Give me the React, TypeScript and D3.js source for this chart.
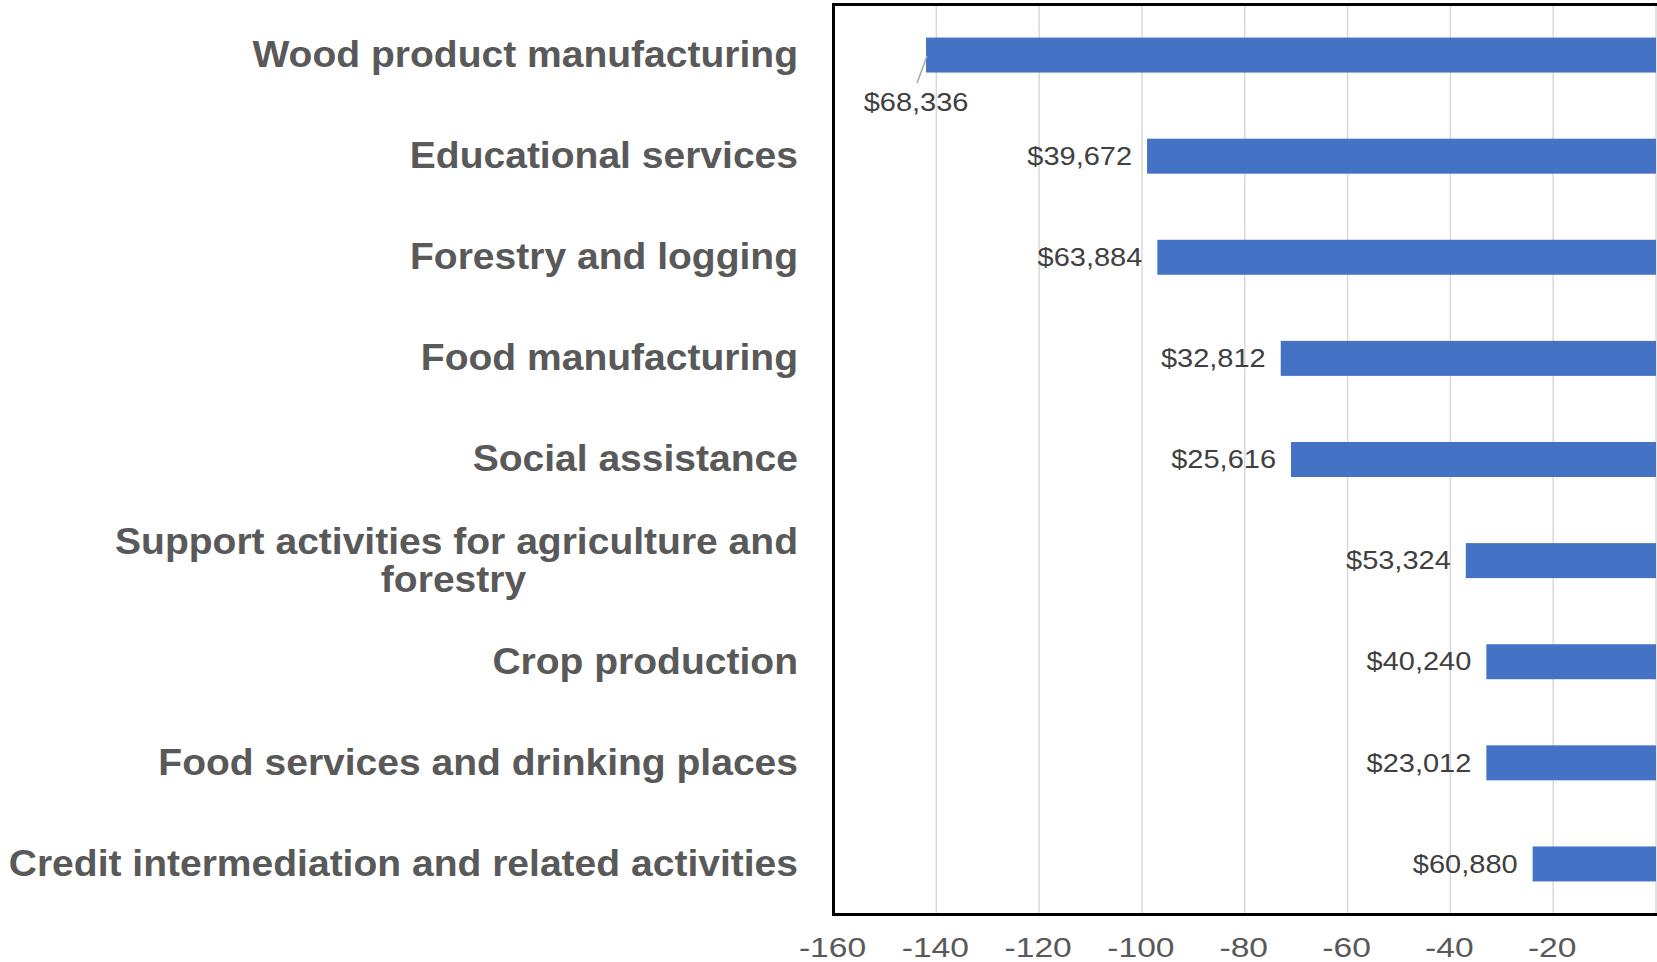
import { useEffect, useRef } from 'react'
import * as d3 from 'd3'

const WIDTH = 1657
const HEIGHT = 962

// industries, top to bottom
const categories = [
  'Wood product manufacturing',
  'Educational services',
  'Forestry and logging',
  'Food manufacturing',
  'Social assistance',
  'Support activities for agriculture and|forestry',
  'Crop production',
  'Food services and drinking places',
  'Credit intermediation and related activities',
]

// bar values
const values = [-142, -99, -97, -73, -71, -37, -33, -33, -24]

// average wage labels shown next to each bar
const wageLabels = [
  '$68,336', '$39,672', '$63,884', '$32,812', '$25,616',
  '$53,324', '$40,240', '$23,012', '$60,880',
]

const tickValues = [-160, -140, -120, -100, -80, -60, -40, -20]

export default function App() {
  const svgRef = useRef<SVGSVGElement>(null)

  useEffect(() => {
    if (!svgRef.current) return
    const svg = d3.select(svgRef.current)
    svg.selectAll('*').remove()

    const left = 833.5
    const right = 1656
    const top = 4.5
    const bottom = 914.5

    const x = d3.scaleLinear().domain([-160, 0]).range([left, right])
    const y = d3.scaleBand<number>()
      .domain(d3.range(categories.length))
      .range([top, bottom])
      .paddingInner(0.654)
      .paddingOuter(0.327)
    const band = (bottom - top) / categories.length

    // gridlines
    svg.append('g')
      .selectAll('line')
      .data([...tickValues.slice(1), 0])
      .enter()
      .append('line')
      .attr('x1', (d) => x(d))
      .attr('x2', (d) => x(d))
      .attr('y1', top)
      .attr('y2', bottom)
      .attr('stroke', '#d9d9d9')
      .attr('stroke-width', 1.5)

    // bars
    svg.append('g')
      .selectAll('rect')
      .data(values)
      .enter()
      .append('rect')
      .attr('x', (d) => x(d))
      .attr('y', (_, i) => y(i)!)
      .attr('width', (d) => x(0) - x(d))
      .attr('height', y.bandwidth())
      .attr('fill', '#4472c4')

    // frame (left, top, bottom)
    svg.append('path')
      .attr('d', `M ${right + 1},${top} H ${left} V ${bottom} H ${right + 1}`)
      .attr('fill', 'none')
      .attr('stroke', '#000')
      .attr('stroke-width', 3)

    // value labels
    const labels = svg.append('g')
      .attr('font-family', '"Liberation Sans", Arial, sans-serif')
      .attr('font-size', 25)
      .attr('fill', '#404040')

    values.forEach((v, i) => {
      const cy = y(i)! + y.bandwidth() / 2
      if (i === 0) {
        // first label sits below the bar with a leader line
        const bx = x(v)
        labels.append('line')
          .attr('x1', bx + 1)
          .attr('y1', cy + 1)
          .attr('x2', bx - 9)
          .attr('y2', cy + 28)
          .attr('stroke', '#a6a6a6')
          .attr('stroke-width', 1.5)
        labels.append('text')
          .attr('transform', `translate(${bx - 10},${cy + 56}) scale(1.16,1)`)
          .attr('text-anchor', 'middle')
          .text(wageLabels[i])
      } else {
        labels.append('text')
          .attr('transform', `translate(${x(v) - 15},${cy}) scale(1.16,1)`)
          .attr('text-anchor', 'end')
          .attr('dy', '0.35em')
          .text(wageLabels[i])
      }
    })

    // category labels
    const cats = svg.append('g')
      .attr('font-family', '"Liberation Sans", Arial, sans-serif')
      .attr('font-size', 37)
      .attr('font-weight', 'bold')
      .attr('fill', '#595959')

    categories.forEach((c, i) => {
      const cy = top + band * (i + 0.5)
      const lines = c.split('|')
      if (lines.length === 1) {
        cats.append('text')
          .attr('transform', `translate(798,${cy - 1}) scale(1.055,1)`)
          .attr('text-anchor', 'end')
          .attr('dy', '0.35em')
          .text(c)
      } else {
        const first = cats.append('text')
          .attr('transform', `translate(798,${cy - 20}) scale(1.055,1)`)
          .attr('text-anchor', 'end')
          .attr('dy', '0.35em')
          .text(lines[0])
        const w = (first.node() as SVGTextElement).getComputedTextLength() * 1.055
        cats.append('text')
          .attr('transform', `translate(${798 - w / 2 - 3},${cy + 18}) scale(1.055,1)`)
          .attr('text-anchor', 'middle')
          .attr('dy', '0.35em')
          .text(lines[1])
      }
    })

    // x axis tick labels
    svg.append('g')
      .attr('font-family', '"Liberation Sans", Arial, sans-serif')
      .attr('font-size', 28)
      .attr('fill', '#595959')
      .selectAll('text')
      .data(tickValues)
      .enter()
      .append('text')
      .attr('transform', (d) => `translate(${x(d) - 1},957) scale(1.2,1)`)
      .attr('text-anchor', 'middle')
      .text((d) => d)
  }, [])

  return (
    <div style={{ position: 'absolute', left: 0, top: 0, background: '#fff' }}>
      <svg ref={svgRef} width={WIDTH} height={HEIGHT} style={{ display: 'block' }} />
    </div>
  )
}
